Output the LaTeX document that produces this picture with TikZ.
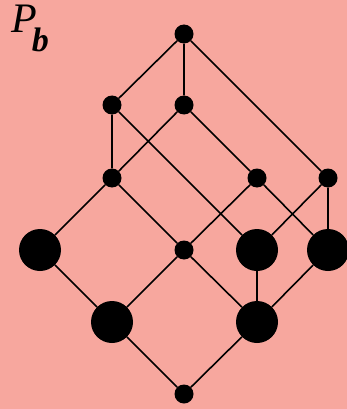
\documentclass[tikz,border=0pt]{standalone}
\usepackage{fontspec}
\setmainfont{Liberation Serif}
\definecolor{bgpink}{RGB}{247,167,158}
\begin{document}
\begin{tikzpicture}[x=1pt,y=-1pt,
  sm/.style={circle,fill=black,inner sep=0pt,minimum size=19pt},
  bg/.style={circle,fill=black,inner sep=0pt,minimum size=42pt},
  edge/.style={line width=1.6pt}]
\fill[bgpink] (0,0) rectangle (347,409);
\useasboundingbox (0,0) rectangle (347,409);
\node[sm] (t) at (184,34) {};
\node[sm] (a1) at (112,105) {};
\node[sm] (a2) at (184,105) {};
\node[sm] (b1) at (112,178) {};
\node[sm] (b2) at (257,178) {};
\node[sm] (b3) at (328,178) {};
\node[bg] (c1) at (40,250) {};
\node[sm] (c2) at (184,250) {};
\node[bg] (c3) at (257,250) {};
\node[bg] (c4) at (328,250) {};
\node[bg] (d1) at (112,322) {};
\node[bg] (d2) at (257,322) {};
\node[sm] (e) at (184,394) {};
\draw[edge] (t) -- (a1) (t) -- (a2) (t) -- (b3)
  (a1) -- (b1) (a1) -- (c3)
  (a2) -- (b1) (a2) -- (b2)
  (b1) -- (c1) (b1) -- (c2)
  (b2) -- (c2) (b2) -- (c4)
  (b3) -- (c3) (b3) -- (c4)
  (c1) -- (d1) (c2) -- (d1) (c2) -- (d2)
  (c3) -- (d2) (c4) -- (d2)
  (d1) -- (e) (d2) -- (e);
\node[anchor=base west,inner sep=0pt] (lbl) at (11,33)
  {\fontsize{42}{42}\selectfont\itshape P\hspace{-5pt}\raisebox{-19pt}{\fontsize{34}{34}\selectfont\bfseries\itshape b}};
\end{tikzpicture}
\end{document}
